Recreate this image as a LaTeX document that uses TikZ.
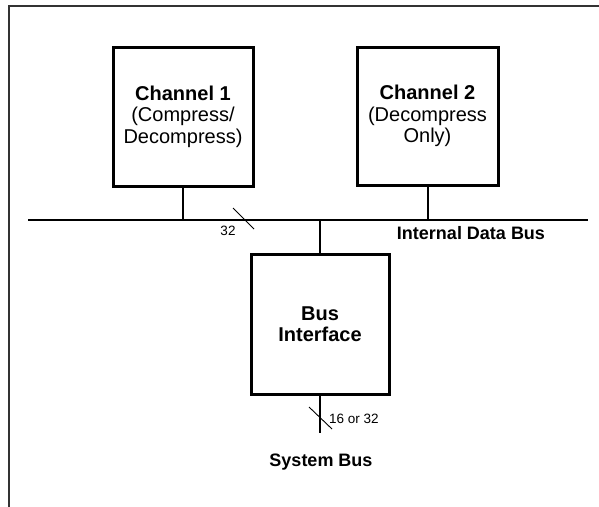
\documentclass[tikz,border=0pt]{standalone}
\usepackage{fontspec}
\setmainfont{Liberation Sans}
\begin{document}
\begin{tikzpicture}[x=1pt,y=-1pt,
  unitbox/.style={draw=black,line width=3pt,fill=white,inner sep=0pt,align=center,
    font=\fontsize{20}{21.5}\selectfont},
  wire/.style={draw=black,line width=2pt},
  slash/.style={draw=black,line width=0.9pt},
  smalllbl/.style={font=\fontsize{13.5}{15}\selectfont,inner sep=0pt},
  buslbl/.style={font=\fontsize{18}{20}\selectfont\bfseries,inner sep=0pt},
  frameline/.style={draw=black!80,line width=2pt}]
\useasboundingbox (0,0) rectangle (599,506);
% frame (top and left edges)
\coordinate (ftl) at (9,5.5);
\coordinate (ftr) at (600,5.5);
\coordinate (fbl) at (9,507);
\draw[frameline] (fbl) -- (ftl) -- (ftr);
% boxes
\node[unitbox,minimum width=140pt,minimum height=139pt] (ch1) at (183,116.5)
  {\textbf{Channel 1}\\(Compress/\\Decompress)};
\node[unitbox,minimum width=141pt,minimum height=138pt] (ch2) at (427.5,116)
  {\textbf{Channel 2}\\(Decompress\\Only)};
\node[unitbox,minimum width=138pt,minimum height=140pt] (bif) at (320,324)
  {\textbf{Bus}\\\textbf{Interface}};
% internal bus
\coordinate (busL) at (28,220);
\coordinate (busR) at (588,220);
\draw[wire] (busL) -- (busR);
\draw[wire] (ch1.south) -- (ch1.south |- busL);
\draw[wire] (ch2.south) -- (ch2.south |- busL);
\draw[wire] (bif.north) -- (bif.north |- busL);
% width slash on internal bus
\coordinate (s1a) at (233,208);
\coordinate (s1b) at (254,229);
\draw[slash] (s1a) -- (s1b);
\node[smalllbl] (w32) at (228,231) {32};
\node[buslbl] (idb) at (471,233) {Internal Data Bus};
% system bus
\coordinate (sysend) at (320,433);
\draw[wire] (bif.south) -- (sysend);
\coordinate (s2a) at (309,407);
\coordinate (s2b) at (332,429);
\draw[slash] (s2a) -- (s2b);
\node[smalllbl,anchor=west] (w1632) at (329,419) {16 or 32};
\node[buslbl] (sb) at (321,462) {System Bus};
\end{tikzpicture}
\end{document}
